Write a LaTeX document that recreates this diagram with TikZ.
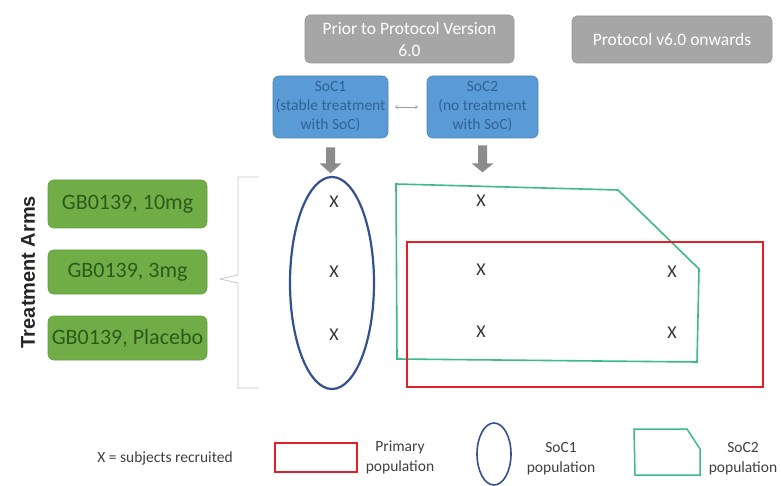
\documentclass[tikz,border=0pt]{standalone}
\usepackage{fontspec}
\setmainfont{Carlito}
\newfontfamily\armsfont{Liberation Sans}
\usetikzlibrary{shapes.geometric,arrows.meta,calc}
\definecolor{boxgray}{HTML}{A6A6A6}
\definecolor{boxblue}{HTML}{5B9BD5}
\definecolor{bluetext}{HTML}{2F6296}
\definecolor{boxgreen}{HTML}{70AD47}
\definecolor{greentext}{HTML}{2D5A1B}
\definecolor{arrowgray}{HTML}{8C8C8C}
\definecolor{bracegray}{HTML}{C8C8C8}
\definecolor{ellblue}{HTML}{34508F}
\definecolor{polygreen}{HTML}{3DBB84}
\definecolor{popred}{HTML}{E3202A}
\definecolor{legtext}{HTML}{404040}
\tikzset{
  graybox/.style={rectangle, rounded corners=5pt, fill=boxgray, draw=boxgray!90!black, line width=0.6pt, text=white, align=center, font=\fontsize{17.5}{22}\selectfont, inner sep=0pt},
  bluebox/.style={rectangle, rounded corners=6pt, fill=boxblue, draw=boxblue!85!black, line width=0.6pt, text=bluetext, align=center, font=\fontsize{15.5}{19}\selectfont, inner sep=0pt},
  armbox/.style={rectangle, rounded corners=6pt, fill=boxgreen, draw=boxgreen!90!black, line width=0.6pt, text=greentext, align=center, font=\fontsize{22}{26}\selectfont, inner sep=0pt, minimum width=159pt},
  xmark/.style={font=\fontsize{18}{20}\selectfont, text=black!80, inner sep=0pt},
  legtxt/.style={font=\fontsize{15.5}{20}\selectfont, text=legtext, align=center, inner sep=0pt},
  blockarrow/.style={fill=arrowgray, draw=none}
}
\begin{document}
\begin{tikzpicture}[x=1pt,y=-1pt]
\useasboundingbox[fill=white] (0,0) rectangle (781,486);

% header boxes
\node[graybox, minimum width=209pt, minimum height=48pt] (prior) at (409.5,39) {Prior to Protocol Version\\6.0};
\node[graybox, minimum width=200pt, minimum height=47pt] (v6) at (672,39.5) {Protocol v6.0 onwards};

% SoC boxes
\node[bluebox, minimum width=115pt, minimum height=62pt] (soc1) at (330.5,107) {SoC1\\(stable treatment\\with SoC)};
\node[bluebox, minimum width=111pt, minimum height=62pt] (soc2) at (482.5,107) {SoC2\\(no treatment\\with SoC)};
\draw[{To[length=2.5pt,width=4pt]}-{To[length=2.5pt,width=4pt]}, black!40, line width=0.6pt, shorten <=7pt, shorten >=9pt] (soc1) -- (soc2);

% block arrows
\fill[blockarrow] ($(soc1.south)+(-4.5,9)$) -- ++(0,16) -- ++(-6.5,0) -- ++(11,10) -- ++(11,-10) -- ++(-6.5,0) -- ++(0,-16) -- cycle;
\fill[blockarrow] ($(soc2.south)+(-4.5,7)$) -- ++(0,18) -- ++(-6.5,0) -- ++(11,9) -- ++(11,-9) -- ++(-6.5,0) -- ++(0,-18) -- cycle;

% treatment arms
\node[armbox, minimum height=48pt] (arm1) at (127.5,204) {GB0139, 10mg};
\node[armbox, minimum height=44pt] (arm2) at (127.5,272) {GB0139, 3mg};
\node[armbox, minimum height=44pt] (arm3) at (127.5,338) {GB0139, Placebo};
\node[rotate=90, font=\armsfont\bfseries\fontsize{20}{22}\selectfont, text=black!85, inner sep=0pt] (arms) at (28,272) {Treatment Arms};

% brace
\draw[bracegray, line width=0.8pt] (259,177) -- (238,177) -- (238,275) -- (220,279) -- (238,283) -- (238,388) -- (259,388);

% populations
\node[ellipse, draw=ellblue, line width=2.2pt, minimum width=84pt, minimum height=212pt, inner sep=0pt] (soc1pop) at (332,283) {};
\draw[polygreen, line width=1.6pt] (396,184) -- (618,190) -- (699,269) -- (697,362) -- (397,359) -- cycle;
\draw[popred, line width=2pt] (407,242) rectangle (763,387);

% X marks
\node[xmark] (x11) at (334,202) {X};
\node[xmark] (x12) at (334,272) {X};
\node[xmark] (x13) at (334,335) {X};
\node[xmark] (x21) at (481,201) {X};
\node[xmark] (x22) at (481,270) {X};
\node[xmark] (x23) at (481,332) {X};
\node[xmark] (x32) at (672,272) {X};
\node[xmark] (x33) at (672,333) {X};

% legend
\node[legtxt] (legx) at (165,458) {X = subjects recruited};
\draw[popred, line width=1.5pt] (275,443) rectangle (357,472);
\node[legtxt] (legprim) at (400,457) {Primary\\population};
\node[ellipse, draw=ellblue, line width=1.6pt, minimum width=34pt, minimum height=62pt, inner sep=0pt] (legell) at (494,454) {};
\node[legtxt] (legsoc1) at (561,459) {SoC1\\population};
\draw[polygreen, line width=1.5pt] (634,429) -- (687,429) -- (700,449) -- (700,475) -- (635,475) -- cycle;
\node[legtxt] (legsoc2) at (743,459) {SoC2\\population};
\end{tikzpicture}
\end{document}
